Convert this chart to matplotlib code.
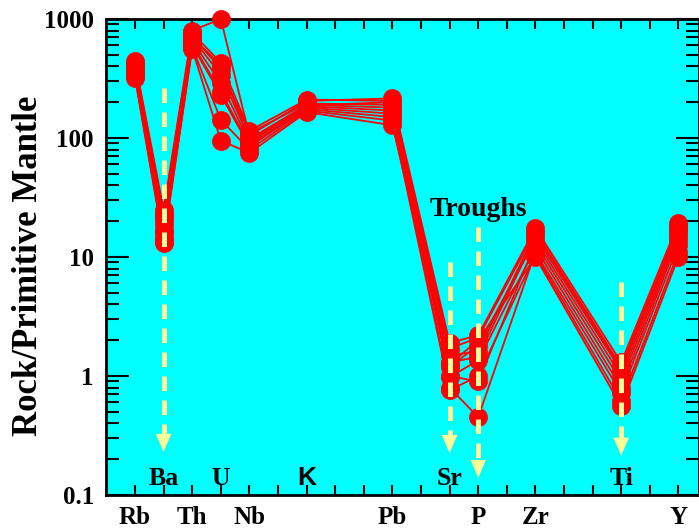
import matplotlib
matplotlib.use('Agg')
import matplotlib.pyplot as plt
from matplotlib.ticker import FixedLocator, NullFormatter, FixedFormatter

# ---------------- data ----------------
elements = ['Rb', 'Ba', 'Th', 'U', 'Nb', 'K', 'Pb', 'Sr', 'P', 'Zr', 'Ti', 'Y']
positions = [0, 1, 2, 3, 4, 6, 9, 11, 12, 14, 17, 19]

bottom_label_pos = [0, 2, 4, 9, 12, 14, 19]
bottom_label_txt = ['Rb', 'Th', 'Nb', 'Pb', 'P', 'Zr', 'Y']

inner_label_pos = [1, 3, 11, 17]
inner_label_txt = ['Ba', 'U', 'Sr', 'Ti']
k_label_pos = 6

s01 = [440, 25, 800, 1000, 105, 205, 215, 1.9, 2.2, 17.5, 1.3, 19.3]
s02 = [420, 23, 760, 430, 115, 210, 205, 1.7, 2.1, 16.5, 1.2, 18]
s03 = [400, 21, 720, 380, 110, 195, 190, 1.3, 1.45, 15, 1.1, 17]
s04 = [380, 19, 690, 340, 98, 190, 180, 1.2, 1.8, 14, 1.0, 16]
s05 = [360, 17, 650, 290, 92, 185, 170, 1.0, 0.9, 13, 0.9, 15]
s06 = [350, 16, 620, 245, 88, 180, 160, 0.98, 1.35, 12, 0.8, 14]
s07 = [340, 14.5, 600, 230, 85, 175, 150, 0.8, 0.45, 11, 0.72, 12.5]
s08 = [330, 13.5, 580, 142, 80, 170, 140, 0.76, 1.0, 10.5, 0.62, 11]
s09 = [320, 13, 560, 95, 75, 165, 128, 1.25, 2.0, 10, 0.56, 10]
s10 = [430, 22, 700, 410, 95, 188, 200, 1.5, 1.6, 16, 1.15, 17.5]
samples = [s01, s02, s03, s04, s05, s06, s07, s08, s09, s10]

arrow_x = [1, 11, 12, 17]
arrow_top = [265, 9.1, 17.8, 6.2]
arrow_tip = [0.23, 0.225, 0.139, 0.214]

yticks = [0.1, 1, 10, 100, 1000]
yticklabels = ['0.1', '1', '10', '100', '1000']

# ---------------- figure ----------------
W, H = 699, 531
fig = plt.figure(figsize=(W / 100, H / 100), dpi=100)
left, right, top, bottom = 106.4, 699, 19, 495
ax = fig.add_axes([left / W, 1 - bottom / H, (right - left) / W, (bottom - top) / H])
ax.set_facecolor('#00FFFF')

ax.set_yscale('log')
ax.set_ylim(0.1, 1000)
ax.set_xlim(-1, 19.72)

red = '#FF0000'
for s in samples:
    ax.plot(positions, s, color=red, lw=1.3, marker='o', markersize=13,
            markerfacecolor=red, markeredgecolor=red, markeredgewidth=0.5,
            clip_on=False, zorder=3)

yellow = '#FFFF99'
for x, t0, t1 in zip(arrow_x, arrow_top, arrow_tip):
    base = t1 * 10 ** (17.0 / 119.0)
    ax.plot([x, x], [t0, base], color=yellow, lw=3.6,
            linestyle=(0, (2.9, 1.9)), solid_capstyle='butt',
            dash_capstyle='butt', zorder=5)
    ax.annotate('', xy=(x, t1), xytext=(x, t0),
                arrowprops=dict(arrowstyle='-|>,head_length=13,head_width=5.6',
                                mutation_scale=1, lw=0, color=yellow,
                                shrinkA=0, shrinkB=0),
                zorder=5)

serif = 'Liberation Serif'

# ticks
ax.xaxis.set_major_locator(FixedLocator(list(range(0, 20))))
xl = ['' for _ in range(20)]
for p, t in zip(bottom_label_pos, bottom_label_txt):
    xl[p] = t
ax.xaxis.set_major_formatter(FixedFormatter(xl))
ax.yaxis.set_major_locator(FixedLocator(yticks))
ax.yaxis.set_major_formatter(FixedFormatter(yticklabels))
minor = []
for d in [0.1, 1, 10, 100]:
    for m in range(2, 10):
        minor.append(d * m)
ax.yaxis.set_minor_locator(FixedLocator(minor))
ax.yaxis.set_minor_formatter(NullFormatter())

ax.tick_params(axis='x', which='major', direction='in', length=7.5, width=1.5,
               top=True, bottom=True, pad=8, colors='black')
ax.tick_params(axis='y', which='major', direction='in', length=16.5, width=1.5,
               left=True, right=True, pad=9)
ax.tick_params(axis='y', which='minor', direction='in', length=9.5, width=1.5,
               left=True, right=True)
for lab in ax.get_xticklabels():
    lab.set_fontfamily(serif)
    lab.set_fontweight('bold')
    lab.set_fontsize(18)
for lab in ax.get_yticklabels():
    lab.set_fontfamily(serif)
    lab.set_fontweight('bold')
    lab.set_fontsize(18)

for sp in ax.spines.values():
    sp.set_linewidth(2)
    sp.set_color('black')

# inner labels
for p, t in zip(inner_label_pos, inner_label_txt):
    ax.text(p, 0.121, t, ha='center', va='baseline', fontfamily=serif,
            fontweight='bold', fontsize=18.5, zorder=6)
ax.text(k_label_pos, 0.121, 'K', ha='center', va='baseline',
        fontfamily='Liberation Sans', fontweight='bold', fontsize=19, zorder=6)
ax.text(12, 22, 'Troughs', ha='center', va='baseline', fontfamily=serif,
        fontweight='bold', fontsize=20, zorder=6)

fig.text(29 / W, 1 - 266 / H, 'Rock/Primitive Mantle', rotation=90,
         ha='center', va='center', fontfamily=serif, fontweight='bold',
         fontsize=25)

fig.savefig('out.png', dpi=100)
